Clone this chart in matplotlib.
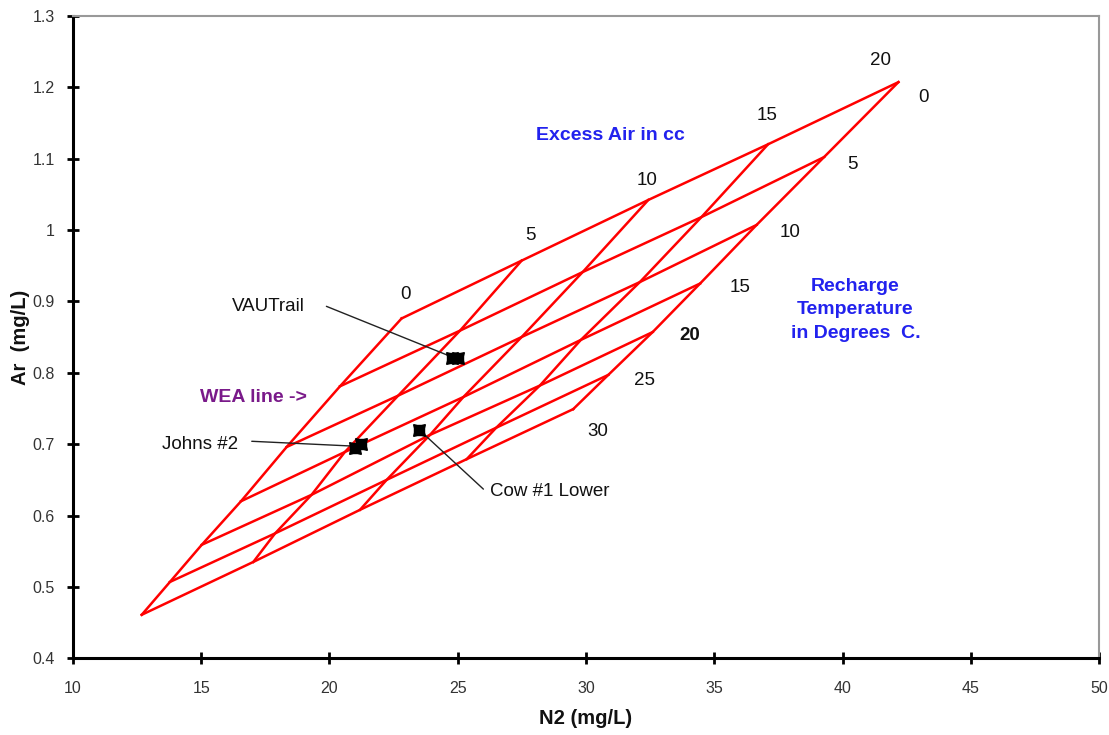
import matplotlib
matplotlib.use("Agg")
import matplotlib.pyplot as plt
import numpy as np

plt.rcParams['font.family'] = ['Liberation Sans', 'DejaVu Sans']

# grid: rows = recharge temperature (C), columns = excess air (cc)
temps = [0, 5, 10, 15, 20, 25, 30]
excess_air = [0, 5, 10, 15, 20]
n2_grid = [
    [22.81, 27.49, 32.43, 37.10, 42.18],
    [20.41, 25.09, 29.87, 34.50, 39.28],
    [18.33, 22.68, 27.49, 32.10, 36.65],
    [16.55, 20.60, 25.22, 29.80, 34.45],
    [15.02, 19.30, 23.92, 28.20, 32.60],
    [13.78, 17.88, 22.23, 26.50, 30.87],
    [12.68, 17.03, 21.19, 25.35, 29.50],
]
ar_grid = [
    [0.876, 0.957, 1.042, 1.120, 1.207],
    [0.781, 0.859, 0.941, 1.018, 1.102],
    [0.696, 0.768, 0.850, 0.927, 1.007],
    [0.620, 0.689, 0.766, 0.846, 0.925],
    [0.559, 0.629, 0.713, 0.782, 0.857],
    [0.507, 0.575, 0.650, 0.723, 0.797],
    [0.461, 0.535, 0.608, 0.679, 0.749],
]

# samples (two analyses for VAUTrail and Johns #2)
sample_n2 = [24.78, 25.02, 20.98, 21.22, 23.50]
sample_ar = [0.820, 0.820, 0.694, 0.700, 0.720]

n2 = np.array(n2_grid)
ar = np.array(ar_grid)

fig = plt.figure(figsize=(11.09, 7.35), dpi=100)
ax = fig.add_axes([0.0658, 0.1043, 0.9252, 0.8743])

red = '#ff0000'
for i in range(len(temps)):
    ax.plot(n2[i], ar[i], color=red, lw=1.8, zorder=2)
for j in range(len(excess_air)):
    ax.plot(n2[:, j], ar[:, j], color=red, lw=1.8, zorder=2)

ax.plot(sample_n2, sample_ar, ls='none', marker=(4, 1, 45), ms=12,
        color='black', zorder=4)
ax.plot(sample_n2, sample_ar, ls='none', marker='s', ms=7,
        color='black', zorder=4)

# sample labels with leader lines
lbl = dict(fontsize=13.5, color='#111111', ha='center', va='center')
line = dict(arrowstyle='-', color='#222222', lw=1.0, shrinkA=0, shrinkB=2)
ax.text(17.6, 0.893, 'VAUTrail', **lbl)
ax.annotate('', xy=(24.85, 0.821), xytext=(19.88, 0.893), arrowprops=line)
ax.text(14.95, 0.700, 'Johns #2', **lbl)
ax.annotate('', xy=(21.07, 0.697), xytext=(16.97, 0.704), arrowprops=line)
ax.text(28.6, 0.633, 'Cow #1 Lower', **lbl)
ax.annotate('', xy=(23.5, 0.720), xytext=(26.0, 0.637), arrowprops=line)

# excess air labels along T=0 line
ea_pos = [(22.98, 0.909), (27.82, 0.992), (32.38, 1.069), (37.06, 1.160), (41.50, 1.237)]
for v, (x, y) in zip(excess_air, ea_pos):
    ax.text(x, y, str(v), ha='center', va='center', fontsize=13.5, color='#111111')

# temperature labels along EA=20 line
t_pos = [(43.14, 1.186), (40.37, 1.092), (37.95, 0.996), (36.00, 0.919),
         (34.05, 0.852), (32.30, 0.789), (30.47, 0.717)]
for v, (x, y) in zip(temps, t_pos):
    ax.text(x, y, str(v), ha='center', va='center', fontsize=13.5, color='#111111',
            fontweight='bold' if v == 20 else 'normal')

ax.text(30.97, 1.132, 'Excess Air in cc', ha='center', va='center',
        fontsize=14, fontweight='bold', color='#2222ee')
ax.text(40.5, 0.888, 'Recharge\nTemperature\nin Degrees  C.', ha='center', va='center',
        fontsize=14, fontweight='bold', color='#2222ee', linespacing=1.5)
ax.text(17.02, 0.765, 'WEA line ->', ha='center', va='center',
        fontsize=14, fontweight='bold', color='#7a1a8a')

ax.set_xlim(10, 50)
ax.set_ylim(0.4, 1.3)
ax.set_xticks(np.arange(10, 51, 5))
ax.set_yticks(np.arange(0.4, 1.31, 0.1))
ax.set_xticklabels([str(v) for v in range(10, 51, 5)])
ax.set_yticklabels(['0.4', '0.5', '0.6', '0.7', '0.8', '0.9', '1', '1.1', '1.2', '1.3'])
ax.tick_params(direction='inout', length=8, width=2, labelsize=11.5,
               labelcolor='#333333', colors='black')
ax.tick_params(axis='x', pad=12)
ax.tick_params(axis='y', pad=9)

for s in ['left', 'bottom']:
    ax.spines[s].set_linewidth(2.2)
    ax.spines[s].set_color('black')
for s in ['top', 'right']:
    ax.spines[s].set_linewidth(1.5)
    ax.spines[s].set_color('#999999')

ax.set_xlabel('N2 (mg/L)', fontsize=14.5, fontweight='bold', color='#111111', labelpad=10)
ax.set_ylabel('Ar  (mg/L)', fontsize=14.5, fontweight='bold', color='#111111', labelpad=2)

fig.savefig('out.png', dpi=100)
